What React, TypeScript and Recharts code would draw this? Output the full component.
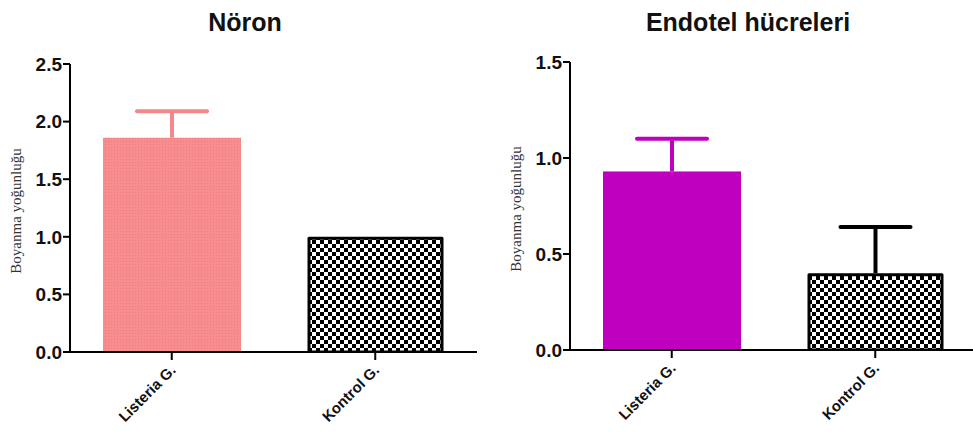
import React from 'react';
import { BarChart, Bar, XAxis, YAxis } from 'recharts';

const categories = ['Listeria G.', 'Kontrol G.'];
const neuronMeans = [1.86, 1.0];
const neuronErr: (number | null)[] = [0.23, null];
const endoMeans = [0.93, 0.4];
const endoErr: (number | null)[] = [0.17, 0.24];
const neuronTicks = [0, 0.5, 1.0, 1.5, 2.0, 2.5];
const endoTicks = [0, 0.5, 1.0, 1.5];
const titles = ['Nöron', 'Endotel hücreleri'];
const yLabel = 'Boyanma yoğunluğu';

const buildRows = (means: number[], errs: (number | null)[]) =>
  categories.map((name, i) => ({ name, mean: means[i], err: errs[i] }));

const neuronRows = buildRows(neuronMeans, neuronErr);
const endoRows = buildRows(endoMeans, endoErr);

const SANS = '"Liberation Sans", Arial, sans-serif';
const SERIF = '"Liberation Serif", "Times New Roman", serif';

const XTick = (props: any) => {
  const { x, y, payload } = props;
  const ax = x + 5;
  const ay = y + 9;
  return (
    <text
      x={ax}
      y={ay}
      textAnchor="end"
      transform={`rotate(-45, ${ax}, ${ay})`}
      fontFamily={SANS}
      fontWeight="bold"
      fontSize={15}
      fill="#111"
    >
      {payload.value}
    </text>
  );
};

const makeShape = (firstFill: string, errColor: string) => (props: any) => {
  const { x, y, width, height, index, payload } = props;
  const err = payload?.err;
  const mean = payload?.mean;
  const cx = x + width / 2;
  let errEl = null;
  if (err != null && mean) {
    const errPx = (err * height) / mean;
    const top = y - errPx;
    const col = index === 1 ? '#000' : errColor;
    errEl = (
      <g stroke={col} strokeWidth={4}>
        <line x1={cx} y1={y} x2={cx} y2={top} />
        <line x1={cx - 35} y1={top} x2={cx + 35} y2={top} strokeLinecap="round" />
      </g>
    );
  }
  if (index === 1) {
    return (
      <g>
        {errEl}
        <rect
          x={x + 2.5}
          y={y + 1.5}
          width={Math.max(width - 5, 0)}
          height={Math.max(height - 1.5, 0)}
          fill="url(#checker)"
          stroke="#000"
          strokeWidth={3}
          strokeLinejoin="round"
        />
      </g>
    );
  }
  return (
    <g>
      {errEl}
      <rect x={x} y={y} width={width} height={height} fill={firstFill} />
    </g>
  );
};

const YLab = (props: any) => {
  const { viewBox } = props;
  const cx = 18;
  const cy = viewBox.y + viewBox.height / 2 + 3;
  return (
    <text
      x={cx}
      y={cy}
      textAnchor="middle"
      dominantBaseline="middle"
      transform={`rotate(-90, ${cx}, ${cy})`}
      fontFamily={SERIF}
      fontSize={15}
      fill="#333"
    >
      {yLabel}
    </text>
  );
};

const Panel = ({ rows, ticks, max, firstFill, errColor, top, bottom }: any) => (
  <BarChart
    width={490}
    height={437}
    data={rows}
    margin={{ top, right: 13, bottom: 0, left: 0 }}
    barSize={138}
  >
    <XAxis
      dataKey="name"
      height={bottom}
      axisLine={{ stroke: '#000', strokeWidth: 2 }}
      tickLine={{ stroke: '#000', strokeWidth: 2 }}
      tickSize={8}
      tick={<XTick />}
      interval={0}
    />
    <YAxis
      width={70}
      domain={[0, max]}
      ticks={ticks}
      allowDataOverflow
      axisLine={{ stroke: '#000', strokeWidth: 2 }}
      tickLine={{ stroke: '#000', strokeWidth: 2 }}
      tickSize={7}
      tickMargin={1}
      tickFormatter={(v: number) => v.toFixed(1)}
      tick={{ fontFamily: SANS, fontWeight: 'bold', fontSize: 19, fill: '#111' }}
      label={<YLab />}
    />
    <Bar
      dataKey="mean"
      isAnimationActive={false}
      shape={makeShape(firstFill, errColor)}
    />
  </BarChart>
);

export default function App() {
  return (
    <div
      style={{
        position: 'absolute',
        left: 0,
        top: 0,
        width: 973,
        height: 437,
        overflow: 'hidden',
        background: '#fff',
      }}
    >
      <svg width={0} height={0} style={{ position: 'absolute' }}>
        <defs>
          <pattern id="checker" width={8} height={8} patternUnits="userSpaceOnUse">
            <rect x={0} y={0} width={8} height={8} fill="#fff" />
            <rect x={0} y={0} width={4} height={4} fill="#000" />
            <rect x={4} y={4} width={4} height={4} fill="#000" />
          </pattern>
          <pattern id="pinkPat" width={3} height={3} patternUnits="userSpaceOnUse">
            <rect x={0} y={0} width={3} height={3} fill="#F88D8F" />
            <rect x={0} y={0} width={1} height={1} fill="#EE7C80" />
          </pattern>
        </defs>
      </svg>
      <div
        style={{
          position: 'absolute',
          left: 145,
          width: 200,
          top: 8,
          textAlign: 'center',
          fontFamily: SANS,
          fontWeight: 'bold',
          fontSize: 25,
          color: '#111',
        }}
      >
        {titles[0]}
      </div>
      <div
        style={{
          position: 'absolute',
          left: 598,
          width: 300,
          top: 8,
          textAlign: 'center',
          fontFamily: SANS,
          fontWeight: 'bold',
          fontSize: 25,
          color: '#111',
        }}
      >
        {titles[1]}
      </div>
      <div style={{ position: 'absolute', left: 0, top: 0 }}>
        <Panel
          rows={neuronRows}
          ticks={neuronTicks}
          max={2.5}
          firstFill="url(#pinkPat)"
          errColor="#F5878A"
          top={64}
          bottom={85}
        />
      </div>
      <div style={{ position: 'absolute', left: 500, top: 0 }}>
        <Panel
          rows={endoRows}
          ticks={endoTicks}
          max={1.5}
          firstFill="#C000BF"
          errColor="#C000BF"
          top={62}
          bottom={87}
        />
      </div>
    </div>
  );
}
